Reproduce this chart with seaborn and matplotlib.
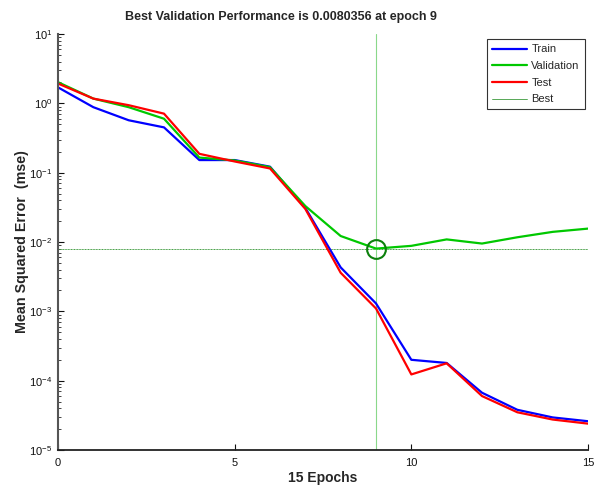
import numpy as np
import pandas as pd
import matplotlib
matplotlib.use("Agg")
import matplotlib.pyplot as plt
import seaborn as sns
from matplotlib.lines import Line2D

# Training record: mean squared error per epoch
epochs = list(range(16))
train = [1.70, 0.88, 0.57, 0.45, 0.152, 0.152, 0.122, 0.031, 0.0043, 0.00130,
         2.0e-4, 1.8e-4, 6.7e-5, 3.8e-5, 2.95e-5, 2.6e-5]
validation = [2.02, 1.17, 0.88, 0.60, 0.165, 0.150, 0.120, 0.033, 0.0122, 0.0080356,
              0.0088, 0.0109, 0.0095, 0.0117, 0.0140, 0.0156]
test = [1.93, 1.17, 0.94, 0.71, 0.187, 0.145, 0.115, 0.030, 0.0036, 0.00110,
        1.23e-4, 1.78e-4, 6.0e-5, 3.5e-5, 2.75e-5, 2.4e-5]
best_epoch = 9
best_perf = 0.0080356

df = pd.DataFrame({
    "epoch": epochs * 3,
    "mse": train + validation + test,
    "set": ["Train"] * 16 + ["Validation"] * 16 + ["Test"] * 16,
})

sns.set_style("ticks")
plt.rcParams["font.family"] = ["Liberation Sans", "DejaVu Sans"]
plt.rcParams["axes.unicode_minus"] = False

fig = plt.figure(figsize=(5.99, 4.86), dpi=100)
ax = fig.add_axes([58 / 599, 1 - 450 / 486, (588 - 58) / 599, (450 - 34) / 486])

palette = {"Train": "#0000ff", "Validation": "#00c800", "Test": "#ff0000"}
sns.lineplot(data=df, x="epoch", y="mse", hue="set", palette=palette,
             linewidth=1.6, ax=ax, legend=False)

# best-epoch guides
ax.axhline(best_perf, color="#3c9a3c", linewidth=0.7, linestyle=(0, (1, 0.6)), zorder=1)
ax.axvline(best_epoch, color="#8ad88a", linewidth=0.8, zorder=1)
ax.plot([best_epoch], [best_perf], marker="o", markersize=13.5, markerfacecolor="none",
        markeredgecolor="#0b800b", markeredgewidth=1.5, linestyle="none", zorder=5)

ax.set_yscale("log")
ax.set_xlim(0, 15)
ax.set_ylim(1e-5, 10)
ax.set_xticks([0, 5, 10, 15])
ax.set_yticks([1e-5, 1e-4, 1e-3, 1e-2, 1e-1, 1e0, 1e1])

for side in ("top", "right"):
    ax.spines[side].set_visible(False)
ax.spines["left"].set_color("#555555")
ax.spines["left"].set_linewidth(1.5)
ax.spines["bottom"].set_color("#222222")
ax.spines["bottom"].set_linewidth(1.3)

ax.tick_params(axis="both", which="major", direction="in", length=4, width=0.8,
               labelsize=8, colors="#111111")
ax.tick_params(axis="x", which="major", pad=6)
ax.tick_params(axis="y", which="major", pad=4)
ax.tick_params(axis="y", which="minor", direction="in", length=2, width=0.6)

fig.text(281 / 599, 1 - 17 / 486, "Best Validation Performance is 0.0080356 at epoch 9",
         fontsize=9, fontweight="bold", ha="center", va="center")
ax.set_xlabel("15 Epochs", fontsize=10, fontweight="bold", labelpad=2)
ax.set_ylabel("Mean Squared Error  (mse)", fontsize=10.3, fontweight="bold", labelpad=0)

handles = [
    Line2D([], [], color="#0000ff", linewidth=1.6),
    Line2D([], [], color="#00c800", linewidth=1.6),
    Line2D([], [], color="#ff0000", linewidth=1.6),
    Line2D([], [], color="#3c9a3c", linewidth=0.6),
]
leg = ax.legend(handles, ["Train", "Validation", "Test", "Best"], loc="upper right",
                bbox_to_anchor=(1.0, 0.995), fontsize=8, frameon=True, fancybox=False,
                handlelength=3.1, handletextpad=0.4, borderpad=0.45, labelspacing=0.6,
                borderaxespad=0.3)
leg.get_frame().set_edgecolor("black")
leg.get_frame().set_linewidth(0.8)

fig.savefig("out.png", dpi=100)
